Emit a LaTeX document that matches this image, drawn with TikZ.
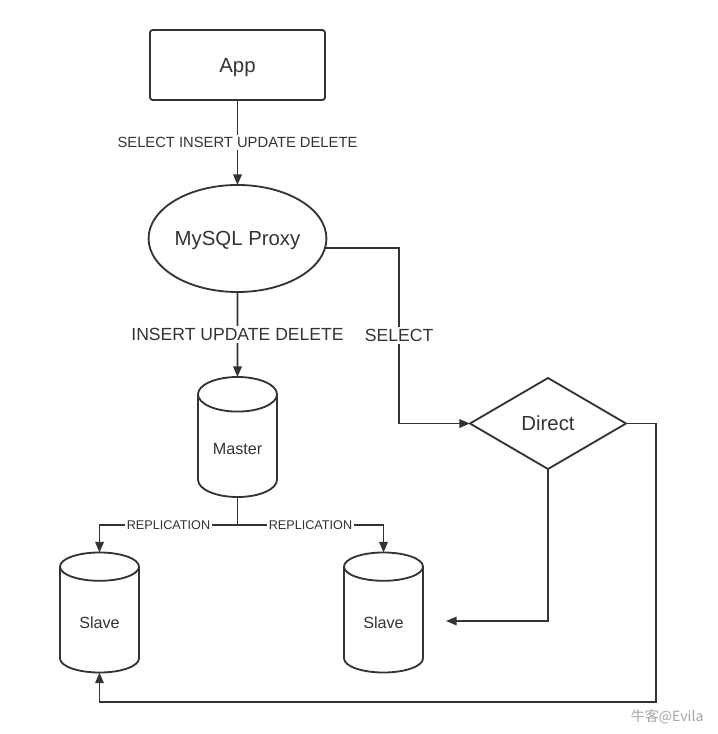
\documentclass[tikz,border=0pt]{standalone}
\usepackage{fontspec}
\setmainfont{Liberation Sans}
\newfontfamily\cjk{Noto Sans CJK SC}
\usepackage{tikz}
\usetikzlibrary{arrows.meta,positioning,shapes.geometric}
\definecolor{ink}{HTML}{333333}
\tikzset{
	arr/.style={-{Triangle[length=7.5pt,width=6pt]}},
	lbl/.style={fill=white,inner sep=1.5pt}
}

\begin{document}
\begin{tikzpicture}[x=0.025cm,y=-0.025cm,line width=1.3pt,color=ink]
	\useasboundingbox (0,0) rectangle (717,734);
	\begin{scope}[every node/.style={draw,align=center,inner sep=0pt,outer sep=0pt,text depth=0pt,font=\fontsize{14.5}{17}\selectfont}]
		\node[rectangle,rounded corners=2pt,minimum width=4.375cm,minimum height=1.75cm] (app) at (237.5,65) {App};
		\node[ellipse,minimum width=4.4cm,minimum height=2.675cm] (proxy) at (237.5,238.5) {MySQL Proxy};
		\node[diamond,minimum width=3.9cm,minimum height=2.275cm] (direct) at (548,423.5) {Direct};
	\end{scope}
	\begin{scope}[every node/.style={draw,cylinder,shape border rotate=90,aspect=0.7,minimum width=1.975cm,minimum height=3cm,inner sep=0pt,outer sep=0pt,text height=12pt,text depth=0pt,font=\fontsize{11.5}{14}\selectfont}]
		\node[anchor=shape center] (master) at (237.5,437) {Master};
		\node[anchor=shape center] (slaveA) at (99.5,612.5) {Slave};
		\node[anchor=shape center] (slaveB) at (383.5,612.5) {Slave};
	\end{scope}
	\draw[arr] (app) -- node[lbl,font=\fontsize{10.5}{12}\selectfont] {SELECT INSERT UPDATE DELETE} (proxy);
	\draw[arr] (proxy) -- node[lbl,font=\fontsize{12.5}{15}\selectfont] {INSERT UPDATE DELETE} (master);
	\draw[arr] (proxy.-6) -- ++(74,0) |- node[lbl,pos=0.25,font=\fontsize{12.5}{15}\selectfont] {SELECT} (direct.west);
	% replication
	\draw (master.south) -- ++(0,28) coordinate (split);
	\draw[arr] (split) -| node[lbl,pos=0.25,font=\fontsize{9}{11}\selectfont] {REPLICATION} (slaveA.north);
	\draw[arr] (split) -| node[lbl,pos=0.25,font=\fontsize{9}{11}\selectfont] {REPLICATION} (slaveB.north);
	% direct
	\coordinate (end) at (446,621);
	\coordinate (loop) at (656,702);
	\draw[arr] (direct.south) |- (end);
	\draw[arr] (direct.east) -| (loop) -| (slaveA.south);
	\node[text=gray!70,font=\cjk\fontsize{10}{12}\selectfont,anchor=east] (mark) at (709,717) {牛客@Evila};
\end{tikzpicture}
\end{document}
